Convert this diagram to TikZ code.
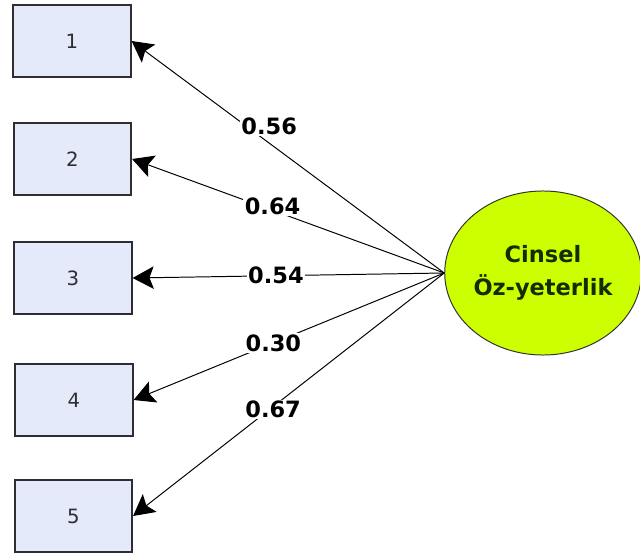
\documentclass[tikz,border=0pt]{standalone}
\usepackage{fontspec}
\setmainfont{DejaVu Sans}
\usetikzlibrary{arrows.meta,shapes,positioning,calc}
\definecolor{boxblue}{RGB}{228,234,250}
\definecolor{boxedge}{RGB}{45,45,50}
\definecolor{limegreen}{RGB}{204,255,0}
\definecolor{darkleaf}{RGB}{20,45,0}

\begin{document}
\begin{tikzpicture}[x=0.025cm, y=-0.025cm,
    itembox/.style={draw=boxedge, line width=1.4pt, fill=boxblue, minimum width=2.93cm,
        minimum height=1.78cm, inner sep=0pt, font=\fontsize{14}{16}\selectfont, text=boxedge},
    factor/.style={ellipse, draw=black!80, line width=0.7pt, fill=limegreen, minimum width=4.78cm,
        minimum height=4.1cm, inner sep=0pt, align=center, text=darkleaf,
        font=\bfseries\fontsize{16}{23}\selectfont},
    loading/.style={-{Stealth[length=15pt, width=16pt, inset=3pt]}, line width=0.7pt, black},
    coef/.style={fill=white, inner sep=1pt, font=\bfseries\fontsize{16}{18}\selectfont}]

    % Canvas
    \useasboundingbox (0,0) rectangle (640,559);

    % Observed items
    \node[itembox] (i1) at (72,41) {1};
    \node[itembox] (i2) at (72.5,159) {2};
    \node[itembox] (i3) at (73,278) {3};
    \node[itembox] (i4) at (74,400) {4};
    \node[itembox] (i5) at (73.5,516) {5};

    % Latent factor
    \node[factor] (f) at (543,273) {Cinsel\\Öz-yeterlik};

    % Loadings
    \draw[loading] (f.west) -- node[coef, pos=0.56, yshift=12pt] {0.56} (i1.east);
    \draw[loading] (f.west) -- node[coef, pos=0.55, yshift=3pt] {0.64} (i2.east);
    \draw[loading] (f.west) -- node[coef, pos=0.54] {0.54} (i3.east);
    \draw[loading] (f.west) -- node[coef, pos=0.55] {0.30} (i4.east);
    \draw[loading] (f.west) -- node[coef, pos=0.55, yshift=-2pt] {0.67} (i5.east);
\end{tikzpicture}
\end{document}
